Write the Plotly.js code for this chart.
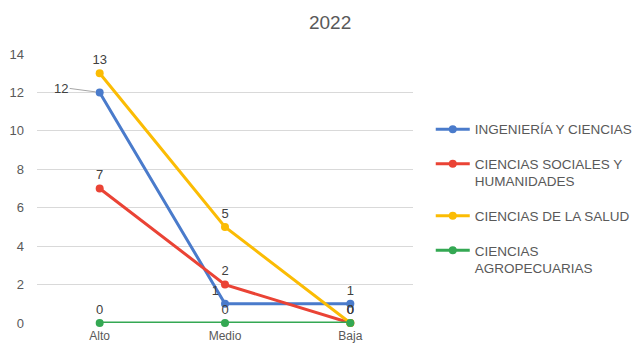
<!DOCTYPE html>
<html><head><meta charset="utf-8">
<script src="https://cdn.plot.ly/plotly-3.0.1.min.js"></script>
<style>body{margin:0;background:#fff}#c{width:641px;height:345px}</style>
</head><body><div id="c"></div>
<script>
const categories = ['Alto', 'Medio', 'Baja'];
const seriesNames = ['INGENIERÍA Y CIENCIAS', 'CIENCIAS SOCIALES Y<br>HUMANIDADES', 'CIENCIAS DE LA SALUD', 'CIENCIAS<br>AGROPECUARIAS'];
const ingenieria = [12, 1, 1];
const sociales = [7, 2, 0];
const salud = [13, 5, 0];
const agro = [0, 0, 0];
const yTicks = [0, 2, 4, 6, 8, 10, 12, 14];

const colors = ['#4A7BCB', '#EA4335', '#FBBC04', '#34A853'];
const values = [ingenieria, sociales, salud, agro];
const positions = [
  ['middle left', 'top left', 'top center'],
  ['top center', 'top center', 'top center'],
  ['top center', 'top center', 'top center'],
  ['top center', 'top center', 'top center']
];
const traces = values.map((v, i) => ({
  type: 'scatter', mode: 'lines+markers+text',
  x: categories, y: v, name: seriesNames[i],
  text: v.map((val, j) => (i === 0 && j === 0) ? '' : String(val)),
  textposition: positions[i],
  textfont: {family: 'Liberation Sans, Arial, sans-serif', size: 13, color: '#404040'},
  line: {color: colors[i], width: 3},
  marker: {color: colors[i], size: 8},
  cliponaxis: false,
  legendgroup: 'g' + i
}));

const layout = {
  width: 641, height: 345,
  margin: {l: 37, r: 228, t: 54, b: 22, autoexpand: false},
  paper_bgcolor: '#fff', plot_bgcolor: '#fff',
  font: {family: 'Liberation Sans, Arial, sans-serif', color: '#595959', size: 12},
  title: {text: '2022', x: 0.515, xanchor: 'center', y: 0.935, yanchor: 'middle',
          font: {size: 19, color: '#595959'}},
  xaxis: {type: 'category', range: [-0.5, 2.5], showgrid: false, showline: false,
          zeroline: false, ticks: '', ticklabelstandoff: 4, tickfont: {size: 12, color: '#595959'}},
  yaxis: {range: [0, 14], tickvals: yTicks, showgrid: true, gridcolor: '#D9D9D9',
          zeroline: false, showline: false, ticks: '', ticklabelstandoff: 12,
          tickfont: {size: 13, color: '#595959'}},
  annotations: [{
    x: categories[0], y: ingenieria[0], xref: 'x', yref: 'y',
    text: String(ingenieria[0]), showarrow: true, arrowhead: 0, arrowwidth: 1,
    arrowcolor: '#A6A6A6', ax: -30, ay: -4, standoff: 4, xanchor: 'right',
    font: {size: 13, color: '#404040'}
  }],
  showlegend: true,
  legend: {x: 0.672, xanchor: 'left', xref: 'container', y: 0.67, yanchor: 'top', yref: 'container',
           font: {size: 13.5, color: '#595959'}, tracegroupgap: 14, valign: 'top',
           itemwidth: 34, bgcolor: 'rgba(0,0,0,0)'}
};
Plotly.newPlot('c', traces, layout, {displayModeBar: false, staticPlot: true});
</script></body></html>
